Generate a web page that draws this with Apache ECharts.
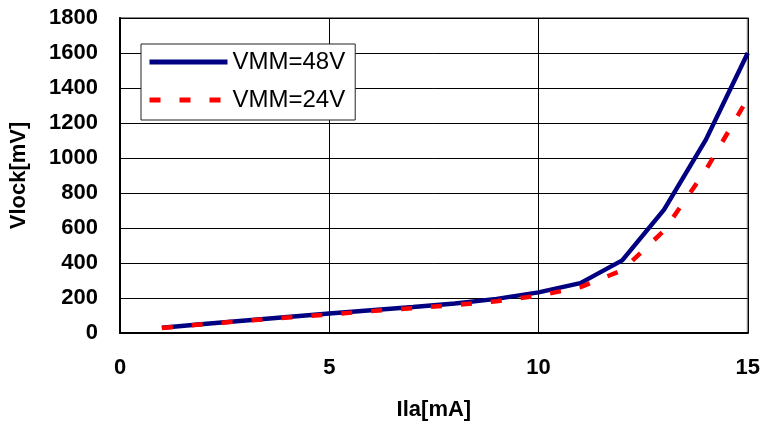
<!DOCTYPE html>
<html>
<head>
<meta charset="utf-8">
<script src="https://cdn.jsdelivr.net/npm/echarts@6/dist/echarts.min.js"></script>
<style>
  html, body { margin: 0; padding: 0; background: #fff; }
  #chart { width: 763px; height: 426px; }
</style>
</head>
<body>
<div id="chart"></div>
<script>
// current Ila [mA]
var ila = [1, 2, 3, 4, 5, 6, 7, 8, 9, 10, 11, 12, 13, 14, 15];
// Vlock [mV] per supply voltage
var vmm48 = [30, 52, 72, 92, 112, 130, 148, 168, 195, 232, 285, 415, 705, 1105, 1600];
var vmm24 = [28, 50, 70, 88, 106, 125, 142, 160, 182, 213, 262, 358, 585, 932, 1340];
var seriesNames = ['VMM=48V', 'VMM=24V'];

function pairs(xs, ys) {
    return xs.map(function (x, i) { return [x, ys[i]]; });
}

var chart = echarts.init(document.getElementById('chart'));

var axisFont = {
    color: '#000',
    fontFamily: 'Liberation Sans, Arial, sans-serif',
    fontWeight: 'bold',
    fontSize: 22
};

chart.setOption({
    animation: false,
    backgroundColor: '#fff',
    grid: {
        left: 120,
        right: 15,
        top: 18,
        bottom: 93,
        show: true,
        borderColor: '#888',
        borderWidth: 2
    },
    legend: {
        orient: 'vertical',
        left: 141,
        top: 44,
        padding: [6, 10, 8, 6],
        itemGap: 14,
        itemWidth: 78,
        itemHeight: 24,
        backgroundColor: '#fff',
        borderColor: '#222',
        borderWidth: 1,
        itemStyle: { opacity: 0 },
        lineStyle: { width: 5 },
        textStyle: {
            color: '#000',
            fontFamily: 'Liberation Sans, Arial, sans-serif',
            fontSize: 24,
            padding: [0, 0, 0, 0]
        },
        data: seriesNames
    },
    xAxis: {
        type: 'value',
        min: 0,
        max: 15,
        interval: 5,
        name: 'Ila[mA]',
        nameLocation: 'middle',
        nameGap: 66,
        nameTextStyle: axisFont,
        axisLine: { show: true, lineStyle: { color: '#000', width: 2 } },
        axisTick: { show: true, inside: true, length: 6, lineStyle: { color: '#000' } },
        axisLabel: Object.assign({ margin: 24 }, axisFont),
        splitLine: { show: true, lineStyle: { color: '#000', width: 1 } }
    },
    yAxis: {
        type: 'value',
        min: 0,
        max: 1800,
        interval: 200,
        name: 'Vlock[mV]',
        nameLocation: 'middle',
        nameGap: 90,
        nameRotate: 90,
        nameTextStyle: axisFont,
        axisLine: { show: true, lineStyle: { color: '#000', width: 2 } },
        axisTick: { show: true, inside: true, length: 7, lineStyle: { color: '#000' } },
        axisLabel: Object.assign({ margin: 22, formatter: function (v) { return String(v); } }, axisFont),
        splitLine: { show: true, lineStyle: { color: '#000', width: 1 } }
    },
    series: [
        {
            name: seriesNames[0],
            type: 'line',
            data: pairs(ila, vmm48),
            symbol: 'none',
            lineStyle: { color: '#000080', width: 4.5 },
            itemStyle: { color: '#000080' },
            z: 2
        },
        {
            name: seriesNames[1],
            type: 'line',
            data: pairs(ila, vmm24),
            symbol: 'none',
            lineStyle: { color: '#ff0000', width: 4.5, type: [11, 19] },
            itemStyle: { color: '#ff0000' },
            z: 3
        }
    ]
});
</script>
</body>
</html>
